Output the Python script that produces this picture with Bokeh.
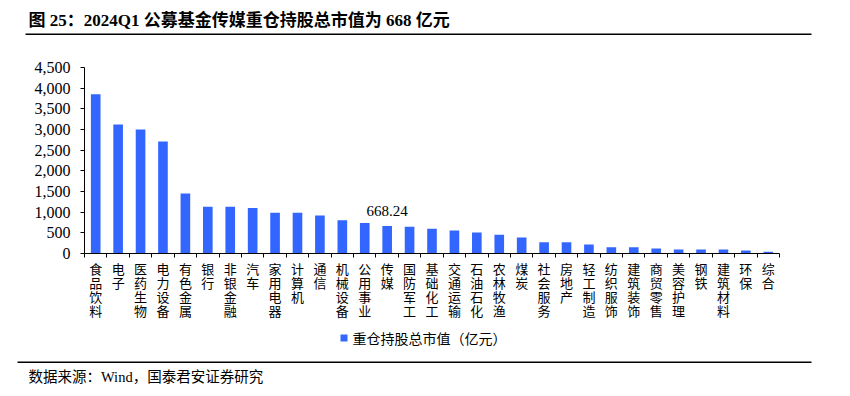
from bokeh.plotting import figure
from bokeh.layouts import column
from bokeh.models import Range1d, FixedTicker, NumeralTickFormatter, ColumnDataSource
from bokeh.core.properties import value
from bokeh.embed import file_html
from bokeh.resources import INLINE

categories = ["食品饮料", "电子", "医药生物", "电力设备", "有色金属", "银行", "非银金融",
              "汽车", "家用电器", "计算机", "通信", "机械设备", "公用事业", "传媒",
              "国防军工", "基础化工", "交通运输", "石油石化", "农林牧渔", "煤炭",
              "社会服务", "房地产", "轻工制造", "纺织服饰", "建筑装饰", "商贸零售",
              "美容护理", "钢铁", "建筑材料", "环保", "综合"]
values = [3850, 3120, 3000, 2710, 1450, 1130, 1130, 1100, 985, 985, 920, 805, 740,
          668.24, 650, 598, 557, 508, 452, 387, 274, 274, 218, 153, 153, 121, 97, 97,
          97, 73, 45]
highlight = "传媒"
y_ticks = [0, 500, 1000, 1500, 2000, 2500, 3000, 3500, 4000, 4500]

title_text = "图 25：2024Q1 公募基金传媒重仓持股总市值为 668 亿元"
legend_text = "重仓持股总市值（亿元）"
source_text = "数据来源：Wind，国泰君安证券研究"

SERIF = "Liberation Serif, Noto Sans CJK SC"
CJK = "Noto Sans CJK SC"
BLUE = "#3366ff"

W = 834
TOP_H = 40          # title strip
MAIN_H = 288        # chart
BOT_H = 56          # legend + source strip
FL, FR, FT, FB = 84, 779, 67, 253   # frame edges in page pixels
n = len(categories)
xs = list(range(n))


def no_align(f):
    if "frame_align" in f.properties():
        f.frame_align = False
    return f


def strip(h):
    f = figure(width=W, height=h, output_backend="svg", toolbar_location=None,
               title=None, x_range=Range1d(0, W), y_range=Range1d(h, 0),
               x_axis_type=None, y_axis_type=None, min_border=0)
    f.outline_line_color = None
    f.grid.visible = False
    f.border_fill_color = "white"
    f.background_fill_color = "white"
    return no_align(f)


# ---- title strip ----
top = strip(TOP_H)
top.text(x=[28], y=[20], text=[title_text], text_font=value(SERIF),
         text_font_size="17px", text_font_style="bold", text_baseline="middle",
         text_color="black")
top.segment(x0=[25], y0=[33.7], x1=[811], y1=[33.7], line_color="black",
            line_width=1.5)

# ---- main chart ----
p = figure(width=W, height=MAIN_H, output_backend="svg", toolbar_location=None,
           title=None, x_range=Range1d(-0.5, n - 0.5), y_range=Range1d(0, 4500),
           min_border_left=FL, min_border_right=W - FR, min_border_top=FT - TOP_H,
           min_border_bottom=TOP_H + MAIN_H - FB)
p.outline_line_color = None
p.grid.visible = False
p.background_fill_color = "white"
p.border_fill_color = "white"
no_align(p)

src = ColumnDataSource(dict(x=xs, top=values))
p.vbar(x="x", top="top", width=0.43, source=src, fill_color=BLUE, line_color=None)

hi = categories.index(highlight)
p.text(x=[hi], y=[values[hi]], text=[f"{values[hi]:.2f}"], text_align="center",
       text_baseline="bottom", y_offset=-10, text_font=value(SERIF),
       text_font_size="15px", text_color="#000000")

ya = p.yaxis[0]
ya.ticker = FixedTicker(ticks=y_ticks)
ya.formatter = NumeralTickFormatter(format="0,0")
ya.major_tick_out = 4
ya.major_tick_in = 0
ya.minor_tick_out = 0
ya.minor_tick_in = 0
ya.axis_line_color = "black"
ya.major_tick_line_color = "black"
ya.major_label_text_font = SERIF
ya.major_label_text_font_size = "16px"
ya.major_label_text_color = "black"
ya.major_label_standoff = 10

xa = p.xaxis[0]
xa.ticker = FixedTicker(ticks=xs, minor_ticks=[i - 0.5 for i in range(n + 1)])
xa.major_label_overrides = {i: "\n".join(c) for i, c in enumerate(categories)}
xa.major_tick_out = 0
xa.major_tick_in = 0
xa.minor_tick_out = 4
xa.minor_tick_in = 0
xa.minor_tick_line_color = "black"
xa.axis_line_color = "black"
xa.major_label_text_font = CJK
xa.major_label_text_font_size = "13px"
xa.major_label_text_line_height = 0.75
xa.major_label_text_color = "black"
xa.major_label_standoff = 1
xa.major_label_orientation = "horizontal"

# ---- legend + source strip ----
bot = strip(BOT_H)
y0 = TOP_H + MAIN_H
bot.rect(x=[343.5], y=[337.5 - y0], width=7, height=7, fill_color=BLUE,
         line_color=None)
bot.text(x=[352], y=[337.5 - y0], text=[legend_text], text_font=value(CJK),
         text_font_size="14px", text_baseline="middle", text_color="black")
bot.segment(x0=[17], y0=[361.7 - y0], x1=[811], y1=[361.7 - y0],
            line_color="black", line_width=1.5)
bot.text(x=[28], y=[376 - y0], text=[source_text], text_font=value(SERIF),
         text_font_size="14.5px", text_baseline="middle", text_color="black")

layout = column(top, p, bot, spacing=0)
open("out.html", "w").write(file_html(layout, INLINE))
